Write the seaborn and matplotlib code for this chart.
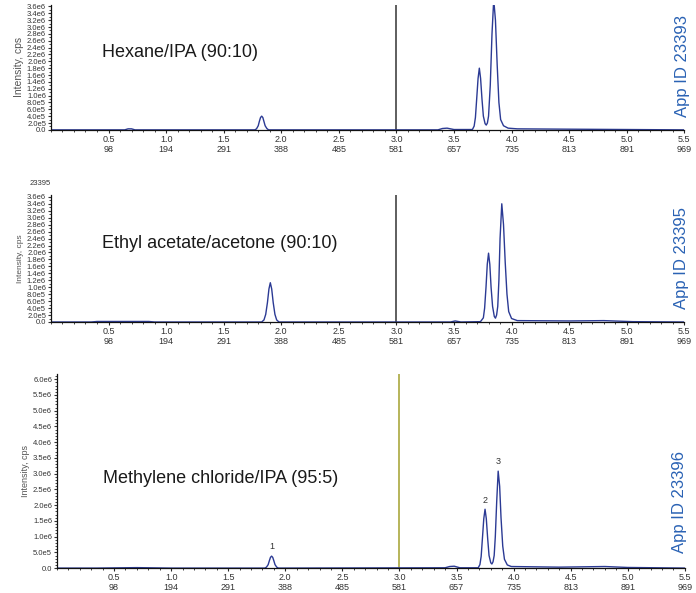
import numpy as np
import pandas as pd
import matplotlib
matplotlib.use('Agg')
import matplotlib.pyplot as plt
from matplotlib.ticker import MultipleLocator, FuncFormatter
import seaborn as sns

#======================================================================================
# Data (time in min, intensity in cps)
time_hex = [0.0, 0.64, 0.67, 0.70, 0.73,
            1.77, 1.785, 1.80, 1.81, 1.82, 1.83, 1.84, 1.85, 1.86, 1.875, 1.89,
            3.36, 3.40, 3.44, 3.50, 3.66, 3.675, 3.686, 3.697, 3.709, 3.72, 3.731,
            3.743, 3.755, 3.77, 3.78, 3.79, 3.80, 3.815, 3.83, 3.845, 3.86, 3.875,
            3.89, 3.905, 3.93, 3.97, 4.05, 4.5, 5.0, 5.5]
int_hex = [0, 0, 3e4, 3e4, 0,
           0, 3e4, 1.2e5, 2.5e5, 3.6e5, 4.0e5, 3.6e5, 2.4e5, 1.2e5, 4e4, 0,
           0, 4e4, 5e4, 1e4, 1e4, 1.1e5, 3.6e5, 9e5, 1.5e6, 1.8e6, 1.5e6,
           9e5, 4e5, 1.8e5, 1.4e5, 2e5, 4e5, 1.3e6, 2.8e6, 3.8e6, 3.2e6, 1.9e6,
           8e5, 3e5, 1.2e5, 5e4, 3e4, 2e4, 1e4, 0]

time_eth = [0.0, 0.35, 0.40, 0.85, 0.90,
            1.83, 1.85, 1.865, 1.88, 1.893, 1.905, 1.917, 1.93, 1.945, 1.96, 1.98,
            3.47, 3.51, 3.56, 3.73, 3.755, 3.766, 3.778, 3.789, 3.80, 3.811, 3.822,
            3.835, 3.85, 3.86, 3.87, 3.88, 3.89, 3.90, 3.915, 3.93, 3.945, 3.96,
            3.975, 4.0, 4.05, 4.5, 4.8, 5.05, 5.5]
int_eth = [0, 0, 1.5e4, 1.5e4, 0,
           0, 6e4, 2.2e5, 5.6e5, 9.5e5, 1.13e6, 9.5e5, 5.6e5, 2.2e5, 6e4, 0,
           0, 3e4, 0, 1e4, 1.2e5, 4e5, 1.0e6, 1.66e6, 1.98e6, 1.66e6, 1.0e6,
           4.5e5, 1.6e5, 1.1e5, 2e5, 4.5e5, 1.2e6, 2.4e6, 3.4e6, 2.8e6, 1.7e6, 8e5,
           3e5, 1e5, 4e4, 3e4, 4e4, 1e4, 0]

time_mec = [0.0, 0.35, 0.70, 1.0,
            1.82, 1.835, 1.85, 1.86, 1.87, 1.88, 1.89, 1.90, 1.91, 1.925, 1.94,
            3.40, 3.44, 3.48, 3.53, 3.69, 3.705, 3.716, 3.727, 3.739, 3.75, 3.761,
            3.773, 3.785, 3.80, 3.81, 3.82, 3.83, 3.84, 3.852, 3.865, 3.878, 3.89,
            3.905, 3.92, 3.945, 3.98, 4.4, 4.8, 5.0, 5.5]
int_mec = [0, 0, 1.5e4, 0,
           0, 3e4, 1.1e5, 2.3e5, 3.4e5, 3.8e5, 3.4e5, 2.3e5, 1.1e5, 3e4, 0,
           1e4, 5e4, 6e4, 1e4, 1e4, 1.1e5, 3.7e5, 9.4e5, 1.57e6, 1.87e6, 1.57e6,
           9.4e5, 4e5, 1.7e5, 1.3e5, 2e5, 4e5, 1.0e6, 2.1e6, 3.08e6, 2.6e6, 1.6e6,
           7e5, 2.8e5, 1e5, 5e4, 3e4, 5e4, 2e4, 0]

# Peak labels for methylene chloride run
peak_names = ['1', '2', '3']
peak_time = [1.88, 3.75, 3.865]
peak_int = [3.8e5, 1.87e6, 3.08e6]

# x-axis tick labels: time and scan number
xtick_time = [0.5, 1.0, 1.5, 2.0, 2.5, 3.0, 3.5, 4.0, 4.5, 5.0, 5.5]
xtick_scan = ['98', '194', '291', '388', '485', '581', '657', '735', '813', '891', '969']

titles = ['Hexane/IPA (90:10)', 'Ethyl acetate/acetone (90:10)', 'Methylene chloride/IPA (95:5)']
app_ids = ['App ID 23393', 'App ID 23395', 'App ID 23396']
#======================================================================================

sns.set_theme(style='ticks')
plt.rcParams['font.family'] = ['Liberation Sans', 'DejaVu Sans']

traceColor = '#2b3a94'
appColor = '#2a62b4'


def sciFmt(v, pos):
    if abs(v) < 1:
        return '0.0'
    e = int(np.floor(np.log10(abs(v)) + 1e-9))
    m = v / 10 ** e
    return f'{m:.1f}e{e}'


fig = plt.figure(figsize=(6.96, 5.93), dpi=100)

# axes rectangles in figure fraction
ax1 = fig.add_axes([0.0732, 0.781, 0.910, 0.211])
ax2 = fig.add_axes([0.0732, 0.457, 0.910, 0.214])
ax3 = fig.add_axes([0.0819, 0.042, 0.902, 0.327])

runs = [(ax1, time_hex, int_hex, 3.65e6, 2e5, '#333333', 7.5),
        (ax2, time_eth, int_eth, 3.65e6, 2e5, '#333333', 6.0),
        (ax3, time_mec, int_mec, 6.16e6, 5e5, '#a3a12e', 6.5)]

for i, (ax, t, y, ytop, ystep, vcol, labSize) in enumerate(runs):
    df = pd.DataFrame({'time': t, 'intensity': y})
    sns.lineplot(data=df, x='time', y='intensity', ax=ax, color=traceColor, lw=1.0)
    ax.axvline(3.0, color=vcol, lw=1.1, zorder=1)
    ax.set_xlim(0, 5.5)
    ax.set_ylim(0, ytop)
    ax.set_xticks(xtick_time)
    ax.set_xticklabels([f'{a:.1f}\n{b}' for a, b in zip(xtick_time, xtick_scan)],
                       fontsize=6.5, color='#333333', linespacing=1.2)
    ax.xaxis.set_minor_locator(MultipleLocator(0.1))
    ax.yaxis.set_major_locator(MultipleLocator(ystep))
    ax.yaxis.set_minor_locator(MultipleLocator(1e5))
    ax.yaxis.set_major_formatter(FuncFormatter(sciFmt))
    ax.tick_params(axis='y', labelsize=5.5, colors='#333333', length=2.5, width=0.8, pad=1)
    ax.tick_params(axis='x', length=2.5, width=0.8, pad=1)
    ax.tick_params(which='minor', length=1.5, width=0.6)
    ax.set_xlabel('')
    ax.set_ylabel('Intensity, cps', fontsize=labSize, color='#555555', labelpad=2)
    sns.despine(ax=ax)
    for s in ['left', 'bottom']:
        ax.spines[s].set_linewidth(0.9)
        ax.spines[s].set_color('#111111')
    ax.text(0.081 if i < 2 else 0.073, 0.62 if i < 2 else 0.46, titles[i],
            transform=ax.transAxes, fontsize=13, color='#1a1a1a', va='center')

for tp, ip, nm in zip(peak_time, peak_int, peak_names):
    ax3.text(tp, ip + 1.5e5, nm, fontsize=6.5, ha='center', va='bottom', color='#333333')

# sample id above second panel
fig.text(0.043, 0.691, '23395', fontsize=5.5, color='#333333', va='center')

# App IDs on the right
fig.text(0.981, 0.889, app_ids[0], rotation=90, color=appColor, fontsize=12, ha='center', va='center')
fig.text(0.979, 0.565, app_ids[1], rotation=90, color=appColor, fontsize=12, ha='center', va='center')
fig.text(0.977, 0.153, app_ids[2], rotation=90, color=appColor, fontsize=12, ha='center', va='center')

fig.savefig('out.png', dpi=100)
